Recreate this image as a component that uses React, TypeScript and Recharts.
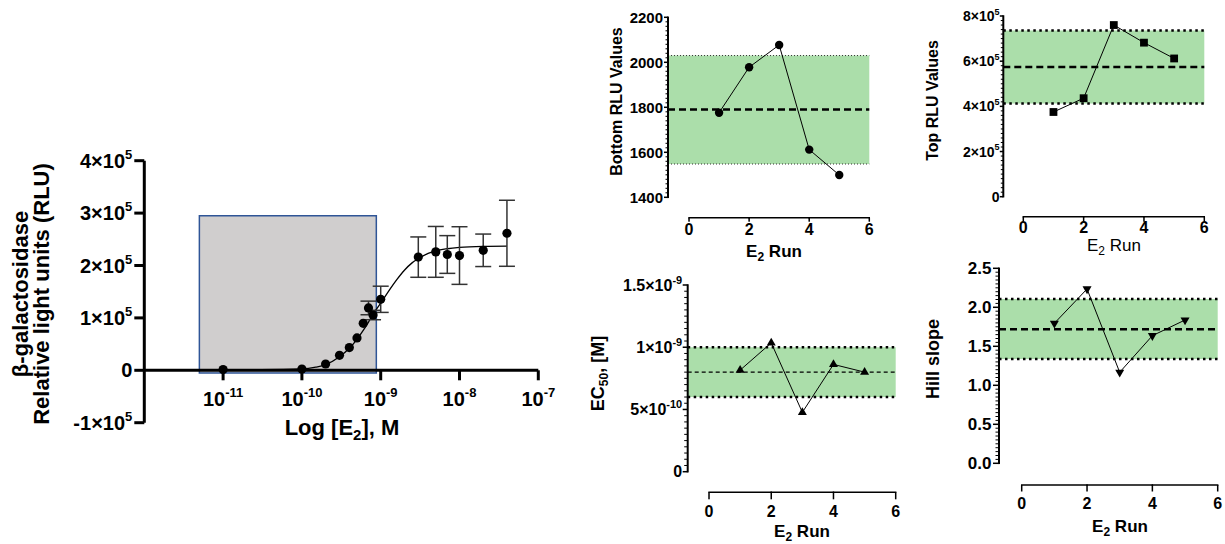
import React from 'react';
import { ComposedChart, Line, Scatter, XAxis, YAxis, ReferenceArea, ReferenceLine, ErrorBar } from 'recharts';

const FONT = '"Liberation Sans", Arial, sans-serif';

// ---- dose-response panel (concentration in M, response in RLU) ----
const doseConc = [1e-11, 1e-10, 2e-10, 3e-10, 4e-10, 5e-10, 6e-10, 7e-10, 8e-10, 1e-9, 3e-9, 5e-9, 7e-9, 1e-8, 2e-8, 4e-8];
const doseRlu = [1500, 2500, 12000, 28600, 43300, 61700, 89700, 119000, 105500, 135500, 216000, 226000, 221000, 219000, 229000, 261500];
const doseErr = [0, 0, 0, 0, 0, 0, 0, 13000, 9000, 25000, 38500, 48500, 36000, 55000, 31000, 63000];

// fitted curve
const fitConc = [1e-11, 3e-11, 1e-10, 1.5e-10, 2e-10, 3e-10, 4e-10, 5e-10, 6e-10, 7e-10, 8e-10, 1e-9, 1.3e-9, 1.6e-9, 2e-9, 2.5e-9, 3e-9, 4e-9, 5e-9, 7e-9, 1e-8, 2e-8, 4e-8];
const fitRlu = [1000, 1200, 2500, 6000, 11000, 26000, 42000, 59000, 76000, 92000, 107000, 128000, 154000, 173000, 191000, 205000, 213000, 223000, 228000, 232000, 234500, 236500, 237000];

const doseTicksX = [1e-11, 1e-10, 1e-9, 1e-8, 1e-7];
const doseTickExpX = ['-11', '-10', '-9', '-8', '-7'];
const doseTicksY = [-1e5, 0, 1e5, 2e5, 3e5, 4e5];
const doseTickLabelsY = [['-1×10', '5'], ['0', ''], ['1×10', '5'], ['2×10', '5'], ['3×10', '5'], ['4×10', '5']];

// shaded window on the dose-response panel
const windowConc = [5e-12, 8.8e-10];
const windowRlu = [-5000, 295000];

// ---- run-to-run panels ----
const runs = [1, 2, 3, 4, 5];
const runTicks = [0, 2, 4, 6];

const bottomRlu = [1776, 1978, 2077, 1612, 1499];
const bottomBand = [1548, 1790, 2030]; // lower, mean, upper
const bottomTicks = [1400, 1600, 1800, 2000, 2200];
const bottomTickLabels = [['1400', ''], ['1600', ''], ['1800', ''], ['2000', ''], ['2200', '']];

const topRlu = [375000, 436000, 760000, 682000, 612000];
const topBand = [413000, 574000, 736000];
const topTicks = [0, 2e5, 4e5, 6e5, 8e5];
const topTickLabels = [['0', ''], ['2×10', '5'], ['4×10', '5'], ['6×10', '5'], ['8×10', '5']];

const ec50 = [8.16e-10, 1.035e-9, 4.77e-10, 8.62e-10, 8.0e-10];
const ec50Band = [6.0e-10, 8.0e-10, 1.0e-9];
const ec50Ticks = [0, 5e-10, 1e-9, 1.5e-9];
const ec50TickLabels = [['0', ''], ['5×10', '-10'], ['1×10', '-9'], ['1.5×10', '-9']];

const hillSlope = [1.795, 2.235, 1.167, 1.636, 1.837];
const hillBand = [1.337, 1.72, 2.106];
const hillTicks = [0, 0.5, 1.0, 1.5, 2.0, 2.5];
const hillTickLabels = [['0.0', ''], ['0.5', ''], ['1.0', ''], ['1.5', ''], ['2.0', ''], ['2.5', '']];

type Box = { x: number; y: number; w: number; h: number };
type Plot = { l: number; t: number; r: number; b: number };

const marginFor = (svg: Box, plot: Plot, yw: number) => ({
  left: plot.l - svg.x - yw,
  top: plot.t - svg.y,
  right: svg.x + svg.w - plot.r,
  bottom: svg.y + svg.h - plot.b - 1,
});

function marker(kind: string, cx: number, cy: number, key?: string) {
  if (kind === 'circle') return <circle key={key} cx={cx} cy={cy} r={4.2} fill="#000" />;
  if (kind === 'square') return <rect key={key} x={cx - 3.9} y={cy - 3.9} width={7.8} height={7.8} fill="#000" />;
  const s = 9;
  const h = s * 0.866;
  if (kind === 'up') return <path key={key} d={`M${cx},${cy - (h * 2) / 3}L${cx + s / 2},${cy + h / 3}L${cx - s / 2},${cy + h / 3}Z`} fill="#000" />;
  return <path key={key} d={`M${cx},${cy + (h * 2) / 3}L${cx + s / 2},${cy - h / 3}L${cx - s / 2},${cy - h / 3}Z`} fill="#000" />;
}

function DoseChart() {
  const svg = { x: 60, y: 140, w: 500, h: 320 };
  const plot = { l: 144.3, t: 160.7, r: 538.3, b: 422.7 };
  const yMin = doseTicksY[0];
  const yMax = doseTicksY[doseTicksY.length - 1];
  // x axis sits on y = 0, not at the bottom of the plot
  const zeroShift = ((plot.b - plot.t) * (0 - yMin)) / (yMax - yMin);

  const points = doseConc.map((c, i) => ({ x: c, y: doseRlu[i], err: doseErr[i] }));
  const curve = fitConc.map((c, i) => ({ x: c, y: fitRlu[i] }));

  const xTick = (p: any) => {
    const i = doseTicksX.findIndex(t => Math.abs(Math.log10(t) - Math.log10(p.payload.value)) < 1e-6);
    const y0 = p.y - zeroShift;
    return (
      <g>
        <line x1={p.x} x2={p.x} y1={y0} y2={y0 + 10} stroke="#000" strokeWidth={3} />
        <text x={p.x} y={y0 + 36} textAnchor="middle" fontSize={20} fontWeight="bold" fontFamily={FONT}>
          10<tspan dy={-9} fontSize={13}>{doseTickExpX[i]}</tspan>
        </text>
      </g>
    );
  };

  const yTick = (p: any) => {
    const i = doseTicksY.indexOf(p.payload.value);
    const [base, sup] = doseTickLabelsY[i];
    return (
      <g>
        <line x1={p.x} x2={p.x - 10} y1={p.y} y2={p.y} stroke="#000" strokeWidth={3} />
        <text x={p.x - 12} y={p.y + 7} textAnchor="end" fontSize={20} fontWeight="bold" fontFamily={FONT}>
          {base}
          {sup && <tspan dy={-9} fontSize={13}>{sup}</tspan>}
        </text>
      </g>
    );
  };

  return (
    <div style={{ position: 'absolute', left: svg.x, top: svg.y }}>
      <ComposedChart width={svg.w} height={svg.h} margin={marginFor(svg, plot, 1)}>
        <XAxis dataKey="x" type="number" scale="log" domain={[1e-12, 1e-7]} ticks={doseTicksX} interval={0}
          axisLine={false} tickLine={false} tickSize={0} tickMargin={0} height={1} tick={xTick} allowDataOverflow />
        <YAxis type="number" domain={[yMin, yMax]} ticks={doseTicksY} interval={0} width={1}
          axisLine={{ stroke: '#000', strokeWidth: 3 }} tickLine={false} tickSize={0} tickMargin={0} tick={yTick} />
        <ReferenceArea x1={windowConc[0]} x2={windowConc[1]} y1={windowRlu[0]} y2={windowRlu[1]}
          fill="#d0cece" fillOpacity={1} stroke="#2f5597" strokeWidth={1.5} ifOverflow="visible" />
        <ReferenceLine y={0} stroke="#000" strokeWidth={3} />
        <Line data={curve} dataKey="y" type="monotone" dot={false} stroke="#000" strokeWidth={1.3} isAnimationActive={false} />
        <Scatter data={points} dataKey="y" isAnimationActive={false}
          shape={(p: any) => <circle cx={p.cx} cy={p.cy} r={4.6} fill="#000" />}>
          <ErrorBar dataKey="err" direction="y" width={8} stroke="#333" strokeWidth={1.5} />
        </Scatter>
      </ComposedChart>
    </div>
  );
}

type PanelSpec = {
  svg: Box;
  plot: Plot; // b = lowest major y tick; the x axis is drawn xOffset px lower
  xOffset: number;
  xMin: number;
  majors: number[];
  labels: string[][];
  minorStep: number;
  values: number[];
  band: number[];
  marker: string;
  edge: { w: number; dash: string; color: string };
  mean: { w: number; dash: string };
  yFont: number;
  supFont: number;
  majorLen: number;
  minorLen: number;
  gap: number;
  xTickLen: number;
  xLabelDy: number;
};

const panels: PanelSpec[] = [
  {
    svg: { x: 575, y: 0, w: 310, h: 265 },
    plot: { l: 668, t: 17.3, r: 869.3, b: 197.3 }, xOffset: 20.4,
    xMin: -0.7,
    majors: bottomTicks, labels: bottomTickLabels, minorStep: 20,
    values: bottomRlu, band: bottomBand, marker: 'circle',
    edge: { w: 1, dash: '1 2', color: '#333' }, mean: { w: 2.5, dash: '7 4' },
    yFont: 15, supFont: 10, majorLen: 4, minorLen: 2.5, gap: 1, xTickLen: 4, xLabelDy: 17,
  },
  {
    svg: { x: 900, y: 0, w: 320, h: 265 },
    plot: { l: 1003.3, t: 16, r: 1204.3, b: 196.7 }, xOffset: 20,
    xMin: -0.663,
    majors: topTicks, labels: topTickLabels, minorStep: 2e4,
    values: topRlu, band: topBand, marker: 'square',
    edge: { w: 2.5, dash: '2.5 3.5', color: '#000' }, mean: { w: 2.5, dash: '7 4' },
    yFont: 14, supFont: 9, majorLen: 3.5, minorLen: 2.5, gap: 0.3, xTickLen: 5, xLabelDy: 16.6,
  },
  {
    svg: { x: 575, y: 268, w: 330, h: 276 },
    plot: { l: 687.7, t: 285, r: 895.7, b: 471.7 }, xOffset: 20.6,
    xMin: -0.685,
    majors: ec50Ticks, labels: ec50TickLabels, minorStep: 5e-11,
    values: ec50, band: ec50Band, marker: 'up',
    edge: { w: 2.5, dash: '2.5 3.5', color: '#000' }, mean: { w: 1.3, dash: '4 3' },
    yFont: 16, supFont: 11, majorLen: 5, minorLen: 3.5, gap: 0.5, xTickLen: 7, xLabelDy: 24.4,
  },
  {
    svg: { x: 900, y: 258, w: 325, h: 286 },
    plot: { l: 999, t: 268.3, r: 1217.7, b: 463.3 }, xOffset: 21.7,
    xMin: -0.695,
    majors: hillTicks, labels: hillTickLabels, minorStep: 0.05,
    values: hillSlope, band: hillBand, marker: 'down',
    edge: { w: 2.5, dash: '2.5 3.5', color: '#000' }, mean: { w: 2.5, dash: '7 4' },
    yFont: 17, supFont: 11, majorLen: 6, minorLen: 3.5, gap: 1.5, xTickLen: 6.5, xLabelDy: 24.3,
  },
];

function RunPanel({ s }: { s: PanelSpec }) {
  const lo = s.majors[0];
  const hi = s.majors[s.majors.length - 1];
  const n = Math.round((hi - lo) / s.minorStep);
  const allTicks: number[] = [];
  for (let i = 0; i <= n; i++) allTicks.push(lo + i * s.minorStep);
  const data = runs.map((r, i) => ({ x: r, y: s.values[i] }));
  const xMax = runTicks[runTicks.length - 1];
  // pixel distance between two x ticks, for the offset x axis line
  const xStepPx = ((s.plot.r - s.plot.l) * (runTicks[1] - runTicks[0])) / (xMax - s.xMin);
  const spanPx = s.plot.b - s.plot.t;
  const yw = 40;

  const yTick = (p: any) => {
    const v = p.payload.value;
    const mi = s.majors.findIndex(m => Math.abs(m - v) < s.minorStep * 0.01);
    if (mi < 0) {
      return <rect x={p.x - s.minorLen} y={p.y - 0.5} width={s.minorLen} height={1} fill="#000" />;
    }
    const [base, sup] = s.labels[mi];
    return (
      <g>
        {mi === 0 && <rect x={p.x - 1} y={p.y - spanPx - 0.75} width={2} height={spanPx + 1.5} fill="#000" />}
        <rect x={p.x - s.majorLen} y={p.y - 0.75} width={s.majorLen} height={1.5} fill="#000" />
        <text x={p.x - s.majorLen - s.gap} y={p.y + s.yFont * 0.36} textAnchor="end" fontSize={s.yFont} fontWeight="bold" fontFamily={FONT}>
          {base}
          {sup && <tspan dy={-s.yFont * 0.45} fontSize={s.supFont}>{sup}</tspan>}
        </text>
      </g>
    );
  };

  const xTick = (p: any) => {
    const y0 = p.y + s.xOffset;
    const last = p.payload.value === xMax;
    return (
      <g>
        {!last && <line x1={p.x - 0.7} x2={p.x + xStepPx + 0.7} y1={y0} y2={y0} stroke="#000" strokeWidth={1.5} />}
        <rect x={p.x - 0.75} y={y0} width={1.5} height={s.xTickLen} fill="#000" />
        <text x={p.x} y={y0 + s.xLabelDy} textAnchor="middle" fontSize={16} fontWeight="bold" fontFamily={FONT}>
          {p.payload.value}
        </text>
      </g>
    );
  };

  return (
    <div style={{ position: 'absolute', left: s.svg.x, top: s.svg.y }}>
      <ComposedChart width={s.svg.w} height={s.svg.h} margin={marginFor(s.svg, s.plot, yw)}>
        <XAxis dataKey="x" type="number" domain={[s.xMin, xMax]} ticks={runTicks} interval={0} height={1}
          axisLine={false} tickLine={false} tickSize={0} tickMargin={0} tick={xTick} allowDataOverflow />
        <YAxis type="number" domain={[lo, hi]} ticks={allTicks} interval={0} width={yw}
          axisLine={false} tickLine={false} tickSize={0} tickMargin={0} tick={yTick} allowDataOverflow />
        <ReferenceArea y1={s.band[0]} y2={s.band[2]} fill="#abdeaa" fillOpacity={1} stroke="none" />
        <ReferenceLine y={s.band[0]} stroke={s.edge.color} strokeWidth={s.edge.w} strokeDasharray={s.edge.dash} />
        <ReferenceLine y={s.band[2]} stroke={s.edge.color} strokeWidth={s.edge.w} strokeDasharray={s.edge.dash} />
        <ReferenceLine y={s.band[1]} stroke="#000" strokeWidth={s.mean.w} strokeDasharray={s.mean.dash} />
        <Line data={data} dataKey="y" stroke="#000" strokeWidth={1} isAnimationActive={false}
          dot={(p: any) => marker(s.marker, p.cx, p.cy, `m${p.index}`)} />
      </ComposedChart>
    </div>
  );
}

function Titles() {
  const t = { fontFamily: FONT, fontWeight: 'bold' as const };
  const rot = (x: number, y: number) => `rotate(-90, ${x}, ${y})`;
  return (
    <svg width={1225} height={544} style={{ position: 'absolute', left: 0, top: 0, pointerEvents: 'none' }}>
      <text {...t} fontSize={22} x={27.5} y={294} textAnchor="middle" transform={rot(27.5, 294)}>β-galactosidase</text>
      <text {...t} fontSize={22} x={48.5} y={294} textAnchor="middle" transform={rot(48.5, 294)}>Relative light units (RLU)</text>
      <text {...t} fontSize={22} x={342} y={435} textAnchor="middle">
        Log [E<tspan dy={5} fontSize={15}>2</tspan><tspan dy={-5}>], M</tspan>
      </text>

      <text {...t} fontSize={16} x={622} y={101.5} textAnchor="middle" transform={rot(622, 101.5)}>Bottom RLU Values</text>
      <text {...t} fontSize={16} x={938} y={100.5} textAnchor="middle" transform={rot(938, 100.5)}>Top RLU Values</text>
      <text {...t} fontSize={18} x={604} y={373.5} textAnchor="middle" transform={rot(604, 373.5)}>
        EC<tspan dy={4} fontSize={12}>50</tspan><tspan dy={-4}>, [M]</tspan>
      </text>
      <text {...t} fontSize={18} x={939} y={359} textAnchor="middle" transform={rot(939, 359)}>Hill slope</text>

      <text {...t} fontSize={17} x={774} y={257} textAnchor="middle">
        E<tspan dy={4} fontSize={12}>2</tspan><tspan dy={-4}> Run</tspan>
      </text>
      <text fontFamily={FONT} fontSize={17} x={1114} y={251} textAnchor="middle">
        E<tspan dy={4} fontSize={12}>2</tspan><tspan dy={-4}> Run</tspan>
      </text>
      <text {...t} fontSize={17} x={802} y={537} textAnchor="middle">
        E<tspan dy={4} fontSize={12}>2</tspan><tspan dy={-4}> Run</tspan>
      </text>
      <text {...t} fontSize={17} x={1120} y={532} textAnchor="middle">
        E<tspan dy={4} fontSize={12}>2</tspan><tspan dy={-4}> Run</tspan>
      </text>
    </svg>
  );
}

export default function App() {
  return (
    <div style={{ position: 'absolute', left: 0, top: 0, width: 1225, height: 544, background: '#fff' }}>
      <DoseChart />
      {panels.map((s, i) => <RunPanel key={i} s={s} />)}
      <Titles />
    </div>
  );
}
